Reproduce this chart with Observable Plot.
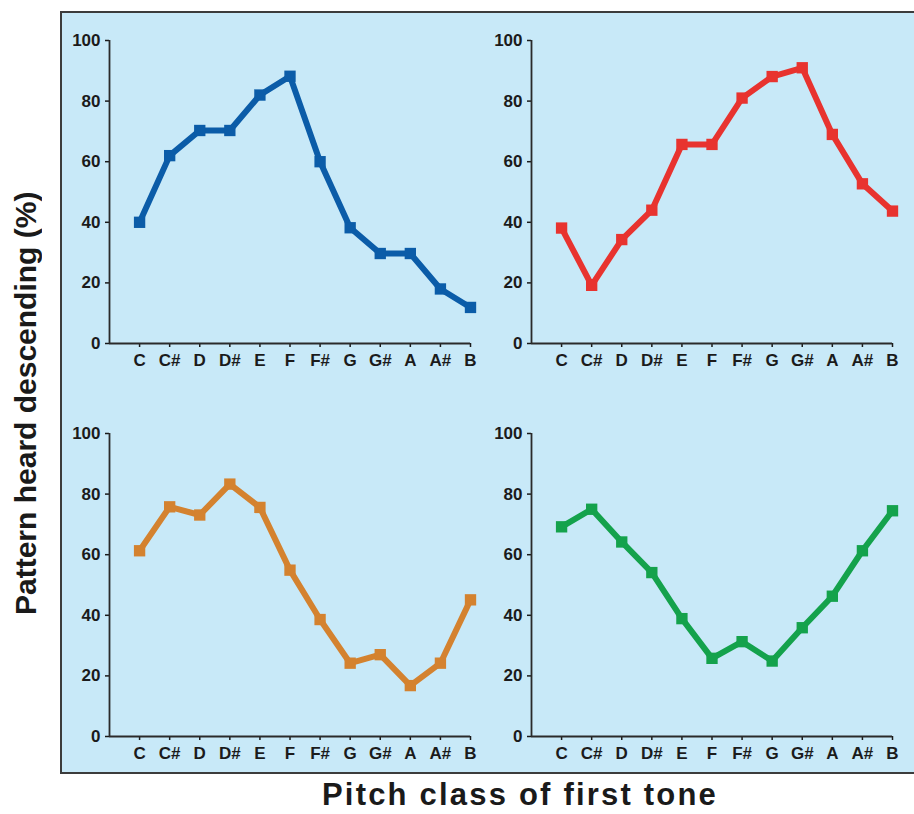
<!DOCTYPE html>
<html>
<head>
<meta charset="utf-8">
<script src="https://cdn.jsdelivr.net/npm/d3@7"></script>
<script src="https://cdn.jsdelivr.net/npm/@observablehq/plot@0.6"></script>
<style>
html, body { margin: 0; padding: 0; background: #ffffff; overflow: hidden; }
#root { position: relative; width: 914px; height: 814px; overflow: hidden; font-family: "Liberation Sans", Arial, sans-serif; }
#box { position: absolute; left: 60px; top: 11px; width: 900px; height: 763px; background: #c8e9f8; border: 2px solid #3c3c3c; box-sizing: border-box; }
.panel { position: absolute; }
#ytitle { position: absolute; left: 11px; top: 103px; height: 600px; writing-mode: vertical-rl; transform: rotate(180deg); text-align: center; font-size: 30px; line-height: 30px; font-weight: bold; color: #1a1a1a; white-space: nowrap; }
#xtitle { position: absolute; left: 120px; width: 800px; top: 779px; text-align: center; font-size: 31px; line-height: 31px; font-weight: bold; letter-spacing: 2.2px; color: #1a1a1a; white-space: nowrap; }
</style>
</head>
<body>
<div id="root">
  <div id="box"></div>
  <div id="ytitle">Pattern heard descending (%)</div>
  <div id="xtitle">Pitch class of first tone</div>
</div>
<script>
const pitchClasses = ["C", "C#", "D", "D#", "E", "F", "F#", "G", "G#", "A", "A#", "B"];
const yTicks = [0, 20, 40, 60, 80, 100];

const seriesTopLeft = [40, 62, 70.3, 70.3, 82, 88.2, 60, 38.2, 29.7, 29.7, 18, 11.9];
const seriesTopRight = [38.1, 19.2, 34.3, 44, 65.7, 65.7, 81, 88.1, 91, 69, 52.7, 43.7];
const seriesBottomLeft = [61.3, 75.8, 73.1, 83.3, 75.6, 54.9, 38.6, 24.2, 27, 16.8, 24.2, 45.1];
const seriesBottomRight = [69.2, 75, 64.2, 54.1, 38.9, 25.8, 31.3, 24.9, 35.9, 46.3, 61.3, 74.5];

const colors = ["#0b5ca8", "#e8332f", "#d4822f", "#14a24c"];

const panels = [
  {values: seriesTopLeft, color: colors[0], left: 60, top: 20},
  {values: seriesTopRight, color: colors[1], left: 482, top: 20},
  {values: seriesBottomLeft, color: colors[2], left: 60, top: 413},
  {values: seriesBottomRight, color: colors[3], left: 482, top: 413}
];

const root = document.getElementById("root");

for (const p of panels) {
  const data = p.values.map((v, i) => ({pos: i + 1, pitch: pitchClasses[i], v}));
  const chart = Plot.plot({
    width: 430,
    height: 370,
    marginLeft: 49,
    marginRight: 20,
    marginTop: 20,
    marginBottom: 47,
    style: {
      background: "transparent",
      overflow: "visible",
      fontFamily: "'Liberation Sans', Arial, sans-serif",
      fontSize: "17px",
      fontWeight: "bold",
      color: "#1b1b1b"
    },
    x: {domain: [0, 12]},
    y: {domain: [0, 100]},
    marks: [
      Plot.axisY({ticks: yTicks, tickSize: 4, tickPadding: 5, label: null, strokeWidth: 1.5, fontSize: 17, fontWeight: "bold"}),
      Plot.axisX({ticks: data.map(d => d.pos), tickFormat: t => pitchClasses[t - 1], tickSize: 4, tickPadding: 6, label: null, strokeWidth: 1.5, fontSize: 17, fontWeight: "bold"}),
      Plot.ruleX([0], {y1: 0, y2: 100, stroke: "#2a2a2a", strokeWidth: 1.8}),
      Plot.ruleY([0], {x1: 0, x2: 12, stroke: "#2a2a2a", strokeWidth: 1.8}),
      Plot.line(data, {x: "pos", y: "v", stroke: p.color, strokeWidth: 6}),
      Plot.dot(data, {x: "pos", y: "v", symbol: "square", r: 6.4, fill: p.color, stroke: "none"})
    ]
  });
  chart.classList.add("panel");
  chart.style.position = "absolute";
  chart.style.left = p.left + "px";
  chart.style.top = p.top + "px";
  root.appendChild(chart);
}
</script>
</body>
</html>
